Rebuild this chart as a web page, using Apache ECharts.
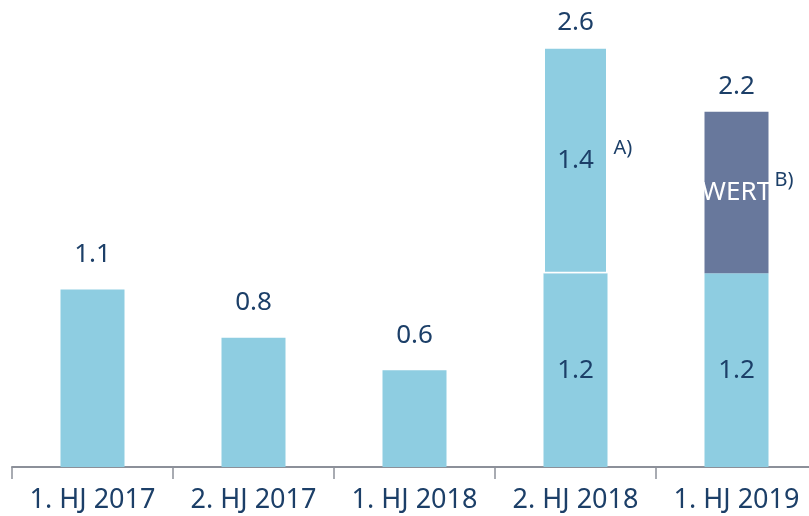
<!DOCTYPE html>
<html>
<head>
<meta charset="utf-8">
<script src="https://cdn.jsdelivr.net/npm/echarts@6/dist/echarts.min.js"></script>
<style>
html,body{margin:0;padding:0;background:#fff;}
#chart{width:809px;height:516px;}
</style>
</head>
<body>
<div id="chart"></div>
<script>
var categories = ['1. HJ 2017', '2. HJ 2017', '1. HJ 2018', '2. HJ 2018', '1. HJ 2019'];
var baseValues = [1.1, 0.8, 0.6, 1.2, 1.2];
var topValues = [null, null, null, 1.4, 1.0];
var totals = [1.1, 0.8, 0.6, 2.6, 2.2];
var topLabels = ['', '', '', '1.4', 'WERT'];
var notes = ['', '', '', 'A)', 'B)'];

var LIGHT = '#8ecde1', DARK = '#68789c', NAVY = '#1c3f68', FONT = 'Noto Sans';

var chart = echarts.init(document.getElementById('chart'), null, {renderer: 'canvas'});

var baseData = baseValues.map(function (v, i) {
  var stacked = topValues[i] != null;
  return {
    value: v,
    label: {show: stacked, position: 'inside', formatter: String(v.toFixed(1))}
  };
});

var topData = topValues.map(function (v, i) {
  if (v == null) return {value: null};
  var dark = topLabels[i] === 'WERT';
  return {
    value: v,
    itemStyle: dark ? {color: DARK} : {color: LIGHT, borderColor: '#fff', borderWidth: 1.5},
    label: {show: true, position: 'inside', formatter: topLabels[i], color: dark ? '#ffffff' : NAVY}
  };
});

var totalData = totals.map(function (v, i) {
  var stacked = topValues[i] != null;
  return {
    value: v,
    label: {distance: stacked ? 12 : 22}
  };
});

var notePoints = [];
notes.forEach(function (n, i) {
  if (n) {
    notePoints.push({
      coord: [i, baseValues[i] + topValues[i] / 2],
      label: {formatter: n}
    });
  }
});

chart.setOption({
  animation: false,
  textStyle: {fontFamily: FONT},
  grid: {left: 12, right: -8, top: 15, bottom: 49, containLabel: false, outerBoundsMode: 'none'},
  xAxis: {
    type: 'category',
    data: categories,
    axisLine: {lineStyle: {color: '#8c9099', width: 2}},
    axisTick: {show: true, length: 12, lineStyle: {color: '#8c9099', width: 1.5}},
    axisLabel: {color: NAVY, fontSize: 27, fontFamily: FONT, margin: 20, interval: 0}
  },
  yAxis: {
    type: 'value', min: 0, max: 2.8, show: false,
    splitLine: {show: false}
  },
  series: [
    {
      name: 'base', type: 'bar', stack: 'a', barWidth: 64,
      itemStyle: {color: LIGHT},
      label: {color: NAVY, fontSize: 26, fontFamily: FONT},
      data: baseData
    },
    {
      name: 'top', type: 'bar', stack: 'a', barWidth: 64,
      label: {fontSize: 26, fontFamily: FONT},
      data: topData,
      markPoint: {
        symbol: 'circle', symbolSize: 0,
        label: {show: true, position: 'inside', align: 'left', offset: [38, -12], color: NAVY, fontSize: 20, fontFamily: FONT},
        data: notePoints
      }
    },
    {
      name: 'total', type: 'bar', stack: 'b', barWidth: 64, barGap: '-100%',
      itemStyle: {color: 'rgba(0,0,0,0)'},
      silent: true, z: 1,
      label: {show: true, position: 'top', color: NAVY, fontSize: 26, fontFamily: FONT,
        formatter: function (p) { return p.value.toFixed(1); }},
      data: totalData
    }
  ]
});
</script>
</body>
</html>
